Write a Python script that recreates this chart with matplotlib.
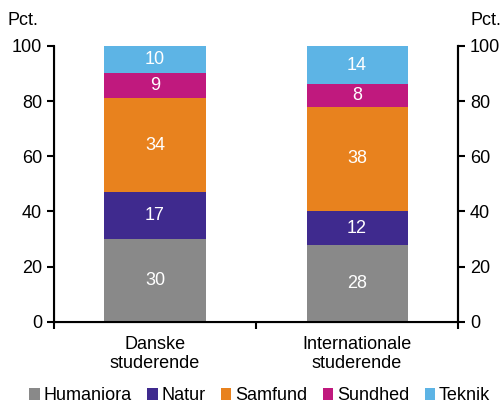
import numpy as np
import matplotlib.pyplot as plt

plt.rcParams['font.family'] = ['Liberation Sans', 'DejaVu Sans']

groups = ['Danske\nstuderende', 'Internationale\nstuderende']
fields = ['Humaniora', 'Natur', 'Samfund', 'Sundhed', 'Teknik']
shares = {
    'Humaniora': [30, 28],
    'Natur': [17, 12],
    'Samfund': [34, 38],
    'Sundhed': [9, 8],
    'Teknik': [10, 14],
}
colors = ['#898989', '#3f2a8e', '#e8821e', '#c0197e', '#5db4e5']

fig = plt.figure(figsize=(5.04, 4.09), dpi=100)
ax = fig.add_axes([0.107, 0.213, 0.802, 0.675])

x = np.arange(len(groups))
bottom = np.zeros(len(groups))
for name, col in zip(fields, colors):
    vals = np.array(shares[name], dtype=float)
    ax.bar(x, vals, width=0.5, bottom=bottom, color=col, label=name,
           linewidth=0)
    for xi, b, v in zip(x, bottom, vals):
        ax.text(xi, b + v / 2, str(int(v)), ha='center', va='center',
                color='white', fontsize=13)
    bottom += vals

ax.set_xlim(-0.5, 1.5)
ax.set_ylim(0, 100)
ax.set_yticks(range(0, 101, 20))
ax.tick_params(axis='y', labelsize=13, direction='out', length=5, width=1.5)
ax.set_xticks([-0.5, 0.5, 1.5])
ax.set_xticklabels([])
ax.set_xticks(x, minor=True)
ax.set_xticklabels(groups, minor=True, fontsize=13)
ax.tick_params(axis='x', which='major', direction='out', length=5, width=1.5)
ax.tick_params(axis='x', which='minor', length=0, pad=10)
ax.spines['top'].set_visible(False)
for s in ['left', 'right', 'bottom']:
    ax.spines[s].set_linewidth(1.5)

ax2 = ax.twinx()
ax2.set_ylim(0, 100)
ax2.set_yticks(range(0, 101, 20))
ax2.tick_params(axis='y', labelsize=13, direction='out', length=5, width=1.5)
ax2.spines['top'].set_visible(False)
ax2.spines['right'].set_linewidth(1.5)

fig.text(0.014, 0.95, 'Pct.', fontsize=13, ha='left', va='center')
fig.text(0.995, 0.95, 'Pct.', fontsize=13, ha='right', va='center')

handles, labels = ax.get_legend_handles_labels()
fig.legend(handles, labels, loc='lower center', bbox_to_anchor=(0.515, -0.028),
           ncol=5, frameon=False, fontsize=13, handlelength=0.6,
           handleheight=0.6, handletextpad=0.2, columnspacing=0.85)

fig.savefig('out.png', dpi=100)
